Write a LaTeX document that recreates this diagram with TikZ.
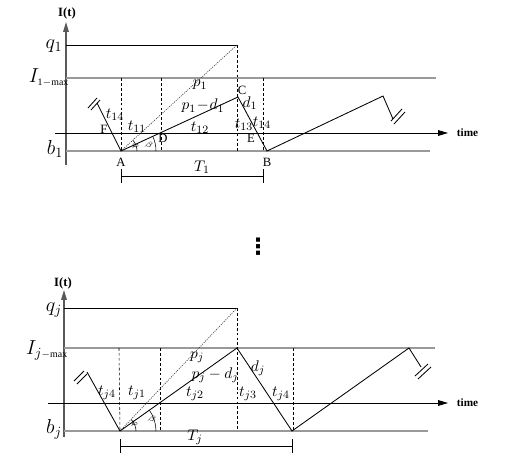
\documentclass[tikz,border=0pt]{standalone}
\usepackage{fontspec}
\setmainfont{Liberation Serif}
\newfontfamily\dotsfont{DejaVu Sans}
\usetikzlibrary{arrows.meta,calc}
\tikzset{
  axisline/.style={draw=gray!70!black, line width=0.8pt},
  refline/.style={draw=gray!80, line width=0.9pt},
  timeline/.style={draw=black, line width=0.6pt, -{Triangle[length=7pt,width=4pt]}},
  stockline/.style={draw=black, line width=0.6pt},
  guide/.style={draw=black, line width=0.4pt, dash pattern=on 2pt off 1.5pt},
  ray/.style={draw=gray!50!black, line width=0.45pt, dash pattern=on 0.8pt off 0.8pt},
  lbl/.style={inner sep=0.5pt, font=\fontsize{11}{12}\selectfont},
  biglbl/.style={inner sep=0.5pt, font=\fontsize{14}{15}\selectfont},
  pointlbl/.style={inner sep=0.5pt, font=\fontsize{9}{10}\selectfont},
  anglbl/.style={inner sep=0pt, font=\fontsize{6}{7}\selectfont},
}
\begin{document}
\begin{tikzpicture}[x=0.025cm, y=-0.025cm]
  \useasboundingbox (0,0) rectangle (515,461);

  % ---------- first item ----------
  \coordinate (top1) at (66,22);
  \coordinate (bot1) at (66,165);
  \coordinate (A1) at (121,151);
  \coordinate (C1) at (238,97);
  \coordinate (B1) at (267,151);
  \coordinate (Q1) at (237,45);
  \coordinate (L1) at (97,103);
  \coordinate (R1) at (383,96);
  \coordinate (S1) at (393,119);
  \draw[axisline, -{Triangle[length=7pt,width=4pt]}] (bot1) -- (top1);
  \node[font=\bfseries\fontsize{9}{10}\selectfont] (it1) at (67,13) {I(t)};
  \draw[stockline] (66,45) -- (Q1);
  \draw[refline] (66,78) -- (436,78);
  \draw[timeline] (55,133) -- (448,133);
  \node[font=\bfseries\fontsize{8}{9}\selectfont, anchor=west] (time1) at (452,133) {time};
  \draw[refline] (66,151) -- (430,151);
  % guides
  \draw[guide] (121,78) -- (A1);
  \draw[guide] (161,78) -- (161,151);
  \draw[guide] (Q1) -- (237,151);
  \draw[guide] (263,78) -- (263,151);
  \draw[ray] (A1) -- (Q1);
  % stock level
  \draw[stockline] (L1) -- (A1) -- (C1) -- (B1) -- (R1) -- (S1);
  \draw[stockline] (88,108) -- (97,98);
  \draw[stockline] (91,110) -- (100,100);
  \draw[stockline] (391,121) -- (402,109);
  \draw[stockline] (394,124) -- (405,112);
  % angles
  \draw[line width=0.4pt] ($(A1)+(16,0)$) arc[start angle=0, end angle=-42, radius=16];
  \draw[line width=0.4pt] ($(A1)+(35,0)$) arc[start angle=0, end angle=-25, radius=35];
  \node[anglbl, rotate=-30] (phi1) at (135,146) {$\varphi$};
  \node[anglbl, rotate=-30] (psi1) at (149,145) {$\beta$};
  % period
  \draw[stockline] (121,169) -- (121,183);
  \draw[stockline] (263,169) -- (263,183);
  \draw[stockline] (121,176) -- (263,176);
  \node[lbl] (T1) at (202,167) {$T_1$};
  % labels
  \node[biglbl] (q1) at (54,46) {$q_1$};
  \node[biglbl] (imax1) at (49,78) {$I_{\scriptscriptstyle\mathrm{1-max}}$};
  \node[biglbl] (b1) at (55,149) {$b_1$};
  \node[pointlbl] (nA1) at (121,162) {A};
  \node[pointlbl] (nB1) at (267,162) {B};
  \node[pointlbl] (nC1) at (242,90) {C};
  \node[pointlbl] (nD1) at (163,138) {D};
  \node[pointlbl] (nE1) at (251,138) {E};
  \node[pointlbl] (nF1) at (104,129) {F};
  \node[lbl] (p1) at (200,85) {$p_1$};
  \node[lbl] (pd1) at (203,106) {$p_1\!-\!d_1$};
  \node[lbl] (d1) at (250,103) {$d_1$};
  \node[lbl] (t14a) at (115,115) {$t_{14}$};
  \node[lbl] (t11) at (137,127) {$t_{11}$};
  \node[lbl] (t12) at (200,128) {$t_{12}$};
  \node[lbl] (t13) at (244,125) {$t_{13}$};
  \node[lbl] (t14b) at (262,123) {$t_{14}$};

  % ---------- dots ----------
  \node[font=\dotsfont\bfseries\fontsize{16}{16}\selectfont] (dots) at (258,247) {⋮};

  % ---------- item j ----------
  \coordinate (topj) at (64,290);
  \coordinate (botj) at (64,437);
  \coordinate (Aj) at (120,431);
  \coordinate (Cj) at (237,348);
  \coordinate (Bj) at (292,431);
  \coordinate (Qj) at (237,308);
  \coordinate (Lj) at (87,372);
  \coordinate (Rj) at (409,348);
  \coordinate (Sj) at (421,367);
  \draw[axisline, -{Triangle[length=7pt,width=4pt]}] (botj) -- (topj);
  \node[font=\bfseries\fontsize{9}{10}\selectfont] (itj) at (63,283) {I(t)};
  \draw[stockline] (64,308) -- (Qj);
  \draw[refline] (64,348) -- (435,348);
  \draw[timeline] (48,403) -- (448,403);
  \node[font=\bfseries\fontsize{8}{9}\selectfont, anchor=west] (timej) at (452,403) {time};
  \draw[refline] (64,431) -- (428,431);
  % guides
  \draw[guide] (119,348) -- (Aj);
  \draw[guide] (160,348) -- (160,431);
  \draw[guide] (Qj) -- (237,431);
  \draw[guide] (293,348) -- (293,431);
  \draw[ray] (Aj) -- (Qj);
  % stock level
  \draw[stockline] (Lj) -- (Aj) -- (Cj) -- (Bj) -- (Rj) -- (Sj);
  \draw[stockline] (74,381) -- (84,371);
  \draw[stockline] (77,384) -- (87,374);
  \draw[stockline] (415,376) -- (428,364);
  \draw[stockline] (418,379) -- (431,367);
  % angles
  \draw[line width=0.4pt] ($(Aj)+(16,0)$) arc[start angle=0, end angle=-46, radius=16];
  \draw[line width=0.4pt] ($(Aj)+(36,0)$) arc[start angle=0, end angle=-35, radius=36];
  \node[anglbl, rotate=-30] (phij) at (134,424) {$\varphi$};
  \node[anglbl, rotate=-30] (psij) at (152,419) {$\beta$};
  % period
  \draw[stockline] (120,439) -- (120,453);
  \draw[stockline] (292,439) -- (292,453);
  \draw[stockline] (120,446) -- (292,446);
  \node[lbl] (Tj) at (195,437) {$T_j$};
  % labels
  \node[biglbl] (qj) at (54,310) {$q_j$};
  \node[biglbl] (imaxj) at (47,350) {$I_{j\scriptscriptstyle-\mathrm{max}}$};
  \node[biglbl] (bj) at (54,429) {$b_j$};
  \node[lbl] (pj) at (197,357) {$p_j$};
  \node[lbl] (pdj) at (215,375) {$p_j-d_j$};
  \node[lbl] (dj) at (258,368) {$d_j$};
  \node[lbl] (tj4a) at (107,393) {$t_{j4}$};
  \node[lbl] (tj1) at (137,393) {$t_{j1}$};
  \node[lbl] (tj2) at (195,394) {$t_{j2}$};
  \node[lbl] (tj3) at (248,394) {$t_{j3}$};
  \node[lbl] (tj4b) at (281,394) {$t_{j4}$};
\end{tikzpicture}
\end{document}
